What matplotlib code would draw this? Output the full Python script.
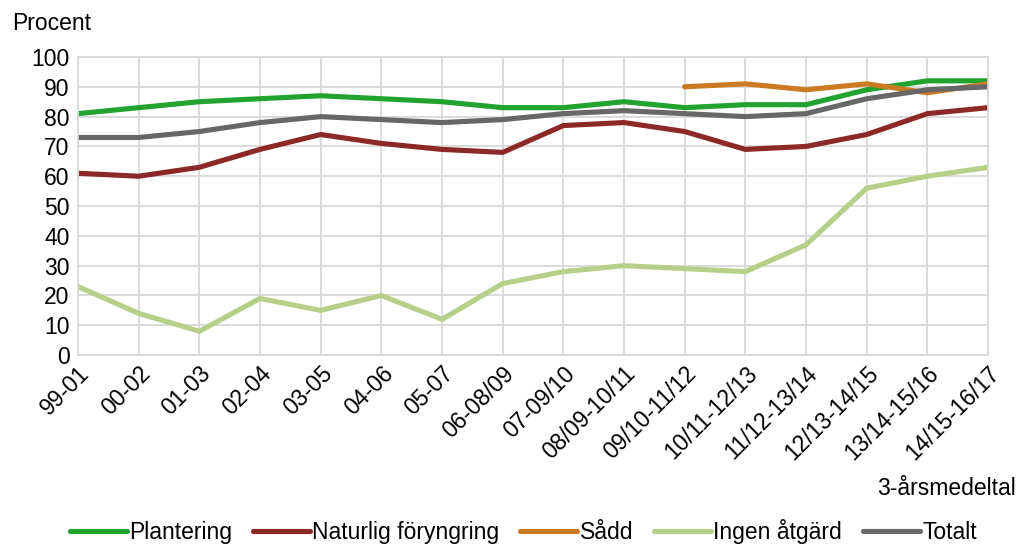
import matplotlib.pyplot as plt
import numpy as np

plt.rcParams['font.family'] = ['Liberation Sans', 'DejaVu Sans']

periods = ['99-01', '00-02', '01-03', '02-04', '03-05', '04-06', '05-07', '06-08/09',
           '07-09/10', '08/09-10/11', '09/10-11/12', '10/11-12/13', '11/12-13/14',
           '12/13-14/15', '13/14-15/16', '14/15-16/17']

plantering = [81, 83, 85, 86, 87, 86, 85, 83, 83, 85, 83, 84, 84, 89, 92, 92]
naturlig = [61, 60, 63, 69, 74, 71, 69, 68, 77, 78, 75, 69, 70, 74, 81, 83]
sadd = [None] * 10 + [90, 91, 89, 91, 88, 91]
ingen = [23, 14, 8, 19, 15, 20, 12, 24, 28, 30, 29, 28, 37, 56, 60, 63]
totalt = [73, 73, 75, 78, 80, 79, 78, 79, 81, 82, 81, 80, 81, 86, 89, 90]

series = [
    ('Plantering', plantering, '#22a32f'),
    ('Naturlig föryngring', naturlig, '#8c2826'),
    ('Sådd', sadd, '#cc7a22'),
    ('Ingen åtgärd', ingen, '#b6d08a'),
    ('Totalt', totalt, '#676767'),
]

FS = 16.5

fig = plt.figure(figsize=(10.26, 5.48), dpi=100)
ax = fig.add_axes([0.076, 0.352, 0.887, 0.544])

x = np.arange(len(periods))
for label, vals, color in series:
    y = np.array([np.nan if v is None else v for v in vals], dtype=float)
    ax.plot(x, y, color=color, linewidth=3.7, label=label, solid_capstyle='round')

ax.set_xlim(0, len(periods) - 1)
ax.set_ylim(0, 100)
ax.set_yticks(range(0, 101, 10))
ax.set_xticks(x)
ax.set_xticklabels(periods, rotation=45, ha='right', rotation_mode='anchor')
ax.tick_params(axis='both', labelsize=FS, length=0, colors='black')
ax.tick_params(axis='x', pad=5)
ax.tick_params(axis='y', pad=6)
ax.grid(True, color='#d9d9d9', linewidth=1.3)
ax.set_axisbelow(True)
for s in ax.spines.values():
    s.set_color('#d9d9d9')
    s.set_linewidth(1.3)

fig.text(0.012, 0.958, 'Procent', fontsize=FS, va='center', ha='left')
fig.text(0.99, 0.108, '3-årsmedeltal', fontsize=FS, va='center', ha='right')

fig.legend(loc='lower center', bbox_to_anchor=(0.51, -0.03), ncol=5, frameon=False,
           fontsize=FS, handlelength=2.5, handletextpad=0.1, columnspacing=0.9)

fig.savefig('out.png', dpi=100)
